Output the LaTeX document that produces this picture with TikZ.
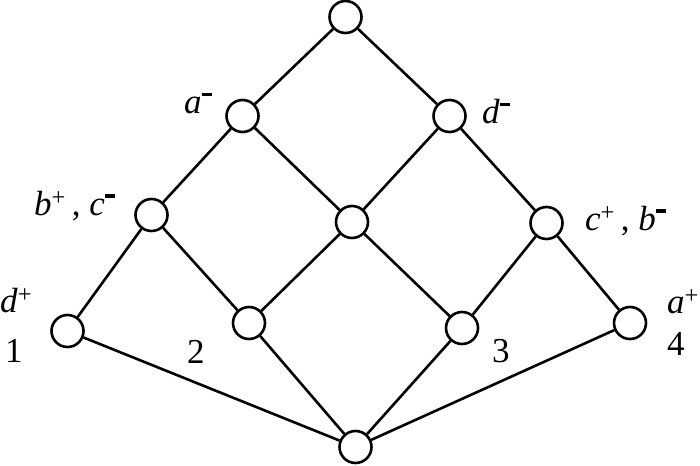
\documentclass[tikz,border=0pt]{standalone}
\usepackage{fontspec}
\setmainfont{Liberation Serif}
\begin{document}
\begin{tikzpicture}[x=1pt,y=-1pt,
  vtx/.style={circle,draw,line width=2.6pt,minimum size=32pt,inner sep=0pt,fill=white},
  edge/.style={line width=2.6pt},
  lbl/.style={font=\fontsize{35}{40}\selectfont,inner sep=0pt,anchor=base west}]
\useasboundingbox (0,0) rectangle (700,465);
\newcommand{\mn}{\raisebox{0.5em}{\rule{0.3em}{0.1em}}}
\newcommand{\pl}{\textsuperscript{+}}
\node[vtx] (top) at (345.5,17) {};
\node[vtx] (am) at (242.5,116) {};
\node[vtx] (dm) at (449.5,116) {};
\node[vtx] (bc) at (151.5,215) {};
\node[vtx] (ctr) at (352,222) {};
\node[vtx] (cb) at (546.5,223) {};
\node[vtx] (n1) at (67.5,331) {};
\node[vtx] (n2) at (249,323) {};
\node[vtx] (n3) at (462,328) {};
\node[vtx] (n4) at (630,323) {};
\node[vtx] (bot) at (355.5,447) {};
\draw[edge] (top) -- (am);
\draw[edge] (top) -- (dm);
\draw[edge] (am) -- (bc);
\draw[edge] (am) -- (ctr);
\draw[edge] (dm) -- (ctr);
\draw[edge] (dm) -- (cb);
\draw[edge] (bc) -- (n1);
\draw[edge] (bc) -- (n2);
\draw[edge] (ctr) -- (n2);
\draw[edge] (ctr) -- (n3);
\draw[edge] (cb) -- (n3);
\draw[edge] (cb) -- (n4);
\draw[edge] (n1) -- (bot);
\draw[edge] (n2) -- (bot);
\draw[edge] (n3) -- (bot);
\draw[edge] (n4) -- (bot);
\node[lbl] (lam) at (184,114) {\textit{a}\mn};
\node[lbl] (ldm) at (482,124) {\textit{d}\mn};
\node[lbl] (lbc) at (34,215) {\textit{b}\pl\,, \textit{c}\mn};
\node[lbl] (lcb) at (585,230) {\textit{c}\pl\,, \textit{b}\mn};
\node[lbl] (ld1) at (0,312) {\textit{d}\pl};
\node[lbl] (l1) at (5,362) {1};
\node[lbl] (l2) at (187,363) {2};
\node[lbl] (l3) at (492,362) {3};
\node[lbl] (la4) at (667,313) {\textit{a}\pl};
\node[lbl] (l4) at (667,355) {4};
\end{tikzpicture}
\end{document}
